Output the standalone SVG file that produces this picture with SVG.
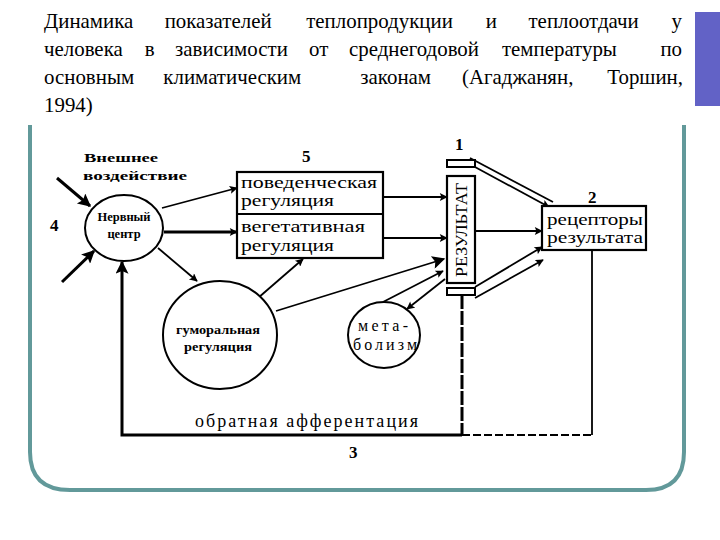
<svg xmlns="http://www.w3.org/2000/svg" width="720" height="540" viewBox="0 0 720 540">
<style>
.title{font-family:"Liberation Serif","Times New Roman",serif;font-size:22px;fill:#000}
.ln{stroke:#000;stroke-width:1.8;fill:none}
.tk{stroke:#000;stroke-width:3;fill:none}
.box{stroke:#000;stroke-width:2.2;fill:#fff}
.ser{font-family:"Liberation Serif","DejaVu Serif",serif;fill:#000}
.bs{font-family:"Liberation Serif","DejaVu Serif",serif;font-weight:bold;fill:#000}
.num{font-family:"Liberation Serif",serif;font-weight:bold;font-size:17px;fill:#000}
</style>
<defs>
<marker id="ah" viewBox="0 0 10 10" refX="9" refY="5" markerWidth="10" markerHeight="8" markerUnits="userSpaceOnUse" orient="auto"><path d="M0,0 L10,5 L0,10 L2,5 z" fill="#000"/></marker>
<marker id="ab" viewBox="0 0 10 10" refX="9" refY="5" markerWidth="15" markerHeight="13" markerUnits="userSpaceOnUse" orient="auto"><path d="M0,0 L10,5 L0,10 L2,5 z" fill="#000"/></marker>
</defs>
<rect width="720" height="540" fill="#fff"/>
<rect x="695" y="12" width="25" height="94" fill="#6262c6"/>
<path d="M30,125 V452 Q30,490 70,490 H646 Q684,490 684,452 V125" fill="none" stroke="#62999a" stroke-width="4"/>
<g id="title" transform="translate(44,0) scale(0.95,1)">
<text class="title" y="28"><tspan x="0">Динамика</tspan><tspan x="127">показателей</tspan><tspan x="276">теплопродукции</tspan><tspan x="465">и</tspan><tspan x="510">теплоотдачи</tspan></text>
<text class="title" x="671.6" y="28" text-anchor="end">у</text>
<text class="title" y="56"><tspan x="0">человека</tspan><tspan x="106">в</tspan><tspan x="138">зависимости</tspan><tspan x="279">от</tspan><tspan x="321">среднегодовой</tspan><tspan x="482">температуры</tspan></text>
<text class="title" x="671.6" y="56" text-anchor="end">по</text>
<text class="title" y="84"><tspan x="0">основным</tspan><tspan x="125.6">климатическим</tspan><tspan x="333">законам</tspan><tspan x="440">(Агаджанян,</tspan></text>
<text class="title" x="672.6" y="84" text-anchor="end">Торшин,</text>
<text class="title" x="0" y="112">1994)</text>
</g>
<g id="connectors">
<line class="tk" x1="57" y1="178" x2="90" y2="206" marker-end="url(#ab)"/>
<line class="tk" x1="62" y1="282" x2="94" y2="251" marker-end="url(#ab)"/>
<line class="ln" x1="162" y1="208" x2="237" y2="188" marker-end="url(#ah)"/>
<line class="tk" x1="164" y1="232" x2="237" y2="232" marker-end="url(#ah)"/>
<line class="ln" x1="158" y1="248" x2="197" y2="281" marker-end="url(#ah)"/>
<line class="ln" x1="383" y1="197" x2="447" y2="197" marker-end="url(#ah)"/>
<line class="ln" x1="383" y1="238" x2="447" y2="238" marker-end="url(#ah)"/>
<line class="ln" x1="258" y1="298" x2="303" y2="259" marker-end="url(#ah)"/>
<line class="ln" x1="276" y1="311" x2="444" y2="259" marker-end="url(#ab)"/>
<line class="ln" x1="383" y1="302" x2="443" y2="271" marker-end="url(#ah)"/>
<line class="ln" x1="445" y1="279" x2="407" y2="309" marker-end="url(#ah)"/>
<line class="ln" x1="475" y1="231" x2="542" y2="231" marker-end="url(#ah)"/>
<path class="ln" d="M470,158 L553,202"/>
<path class="ln" d="M475,167 L549,207" marker-end="url(#ah)"/>
<line class="ln" x1="475" y1="287" x2="542" y2="247" marker-end="url(#ah)"/>
<line class="ln" x1="475" y1="298" x2="543" y2="260" marker-end="url(#ah)"/>
<line class="ln" x1="592" y1="250" x2="592" y2="435"/>
<line x1="462" y1="295" x2="462" y2="435" stroke="#000" stroke-width="3" stroke-dasharray="14,2"/>
<line x1="462" y1="435" x2="592" y2="435" stroke="#000" stroke-width="2" stroke-dasharray="8,3"/>
<polyline class="tk" points="462,435 122,435 122,262" marker-end="url(#ab)"/>
</g>
<g id="external">
<text class="bs" x="84" y="162" font-size="13.5" textLength="74" lengthAdjust="spacingAndGlyphs">Внешнее</text>
<text class="bs" x="83" y="180" font-size="13.5" textLength="104" lengthAdjust="spacingAndGlyphs">воздействие</text>
<text class="num" x="50" y="231">4</text>
</g>
<g id="nerv">
<ellipse cx="124" cy="228" rx="39" ry="33" fill="#fff" stroke="#000" stroke-width="2"/>
<text class="bs" x="124" y="221" font-size="12.5" text-anchor="middle">Нервный</text>
<text class="bs" x="124" y="238" font-size="12.5" text-anchor="middle">центр</text>
</g>
<g id="regbox">
<text class="num" x="302" y="162">5</text>
<rect class="box" x="237" y="172" width="146" height="86"/>
<line x1="237" y1="214" x2="383" y2="214" stroke="#000" stroke-width="2"/>
<text class="ser" x="241" y="188" font-size="17" textLength="136" lengthAdjust="spacingAndGlyphs">поведенческая</text>
<text class="ser" x="241" y="206" font-size="17" textLength="93" lengthAdjust="spacingAndGlyphs">регуляция</text>
<text class="ser" x="241" y="232" font-size="17" textLength="124" lengthAdjust="spacingAndGlyphs">вегетативная</text>
<text class="ser" x="241" y="251" font-size="17" textLength="93" lengthAdjust="spacingAndGlyphs">регуляция</text>
</g>
<g id="result">
<text class="num" x="455" y="150">1</text>
<rect x="447" y="160" width="28" height="7" fill="#fff" stroke="#000" stroke-width="2"/>
<rect x="447" y="176" width="28" height="107" fill="#fff" stroke="#000" stroke-width="2.2"/>
<rect x="447" y="288" width="28" height="7" fill="#fff" stroke="#000" stroke-width="2"/>
<text class="ser" transform="translate(467,230) rotate(-90)" font-size="16" text-anchor="middle" textLength="94" lengthAdjust="spacingAndGlyphs">РЕЗУЛЬТАТ</text>
</g>
<g id="receptors">
<text class="num" x="588" y="203">2</text>
<rect class="box" x="542" y="206" width="104" height="44"/>
<text class="ser" x="547" y="225" font-size="16" textLength="96" lengthAdjust="spacingAndGlyphs">рецепторы</text>
<text class="ser" x="547" y="243" font-size="16" textLength="96" lengthAdjust="spacingAndGlyphs">результата</text>
</g>
<g id="humoral">
<ellipse cx="220" cy="335" rx="57" ry="54" fill="#fff" stroke="#000" stroke-width="2"/>
<text class="bs" x="218" y="334" font-size="12" text-anchor="middle" textLength="84" lengthAdjust="spacingAndGlyphs">гуморальная</text>
<text class="bs" x="218" y="351" font-size="12" text-anchor="middle" textLength="68" lengthAdjust="spacingAndGlyphs">регуляция</text>
</g>
<g id="metab">
<ellipse cx="384" cy="335" rx="36" ry="33" fill="#fff" stroke="#000" stroke-width="2"/>
<text class="ser" x="383" y="331" font-size="16" text-anchor="middle" textLength="50" lengthAdjust="spacing">мета-</text>
<text class="ser" x="385" y="350" font-size="16" text-anchor="middle" textLength="64" lengthAdjust="spacing">болизм</text>
</g>
<g id="feedback">
<text class="ser" x="195" y="427" font-size="18" textLength="223" lengthAdjust="spacing">обратная афферентация</text>
<text class="num" x="349" y="458">3</text>
</g>
</svg>
